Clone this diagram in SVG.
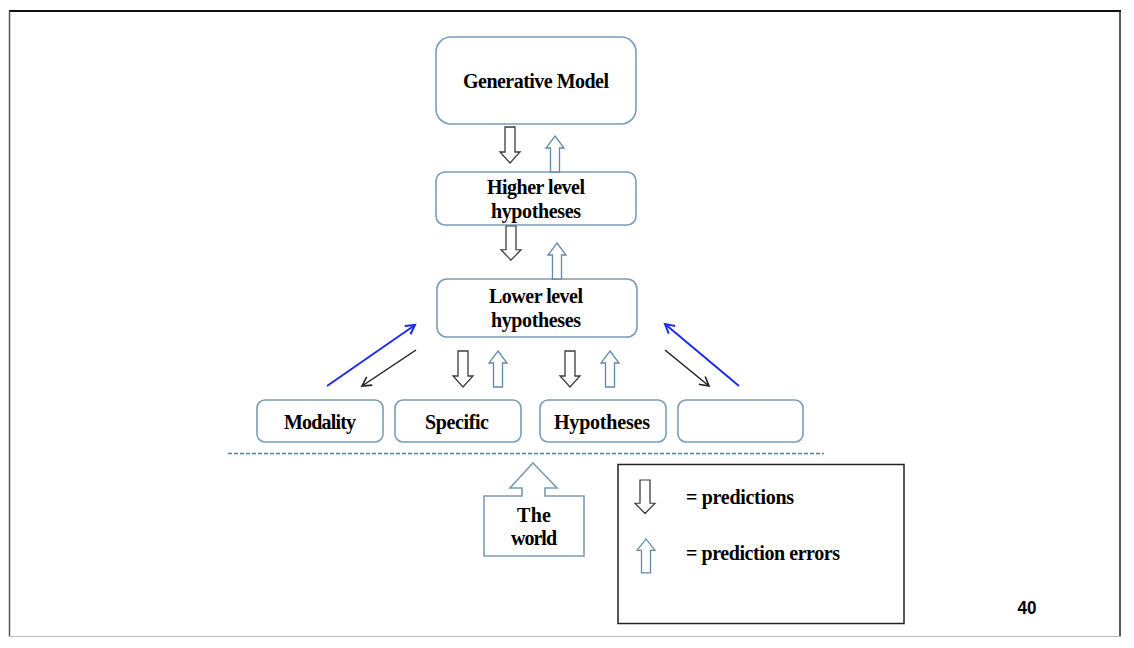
<svg xmlns="http://www.w3.org/2000/svg" width="1134" height="648" viewBox="0 0 1134 648">
<style>
.box{fill:#fff;stroke:#7b9cb5;stroke-width:1.6}
.t{font-family:"Liberation Serif","Times New Roman",serif;font-weight:bold;font-size:20px;fill:#000;text-anchor:middle}
.dn{fill:#fff;stroke:#3c3c3c;stroke-width:1.3}
.up{fill:#fff;stroke:#5f8bab;stroke-width:1.3}
.blue{stroke:#1c2bf0;stroke-width:2;fill:none}
.blk{stroke:#222;stroke-width:1.5;fill:none}
</style>
<defs>
<path id="dnA" d="M-5,0 H5 V25 H10 L0,36 L-10,25 H-5 Z"/>
<path id="upA" d="M0,0 L9,12 H4.5 V36 H-4.5 V12 H-9 Z"/>
<marker id="mB" markerUnits="userSpaceOnUse" markerWidth="14" markerHeight="14" refX="10" refY="6" orient="auto"><path d="M1,1 L10,6 L1,11" fill="none" stroke="#1c2bf0" stroke-width="2"/></marker>
<marker id="mK" markerUnits="userSpaceOnUse" markerWidth="14" markerHeight="14" refX="10" refY="6" orient="auto"><path d="M1,1 L10,6 L1,11" fill="none" stroke="#222" stroke-width="1.6"/></marker>
</defs>
<rect width="1134" height="648" fill="#fff"/>
<g id="frame">
<line x1="9" y1="11" x2="1121" y2="11" stroke="#111" stroke-width="2"/>
<line x1="9.5" y1="11" x2="9.5" y2="636" stroke="#555" stroke-width="1.5"/>
<line x1="1120" y1="11" x2="1120" y2="636" stroke="#333" stroke-width="1.6"/>
<line x1="9" y1="636.5" x2="1121" y2="636.5" stroke="#bbb" stroke-width="1.2"/>
</g>
<g id="generative-model"><rect class="box" x="436" y="37" width="200" height="87" rx="15"/><text class="t" x="536" y="88" textLength="146">Generative Model</text></g>
<g id="higher-level"><rect class="box" x="436" y="172" width="200" height="53" rx="9"/><text class="t" x="536" y="194" textLength="98">Higher level</text><text class="t" x="536" y="218" textLength="90">hypotheses</text></g>
<g id="lower-level"><rect class="box" x="437" y="279" width="200" height="58" rx="10"/><text class="t" x="536" y="303" textLength="94">Lower level</text><text class="t" x="536" y="327" textLength="90">hypotheses</text></g>
<g id="modality"><rect class="box" x="257" y="400" width="126" height="42" rx="8"/><text class="t" x="320" y="429" textLength="72">Modality</text></g>
<g id="specific"><rect class="box" x="395" y="400" width="126" height="42" rx="8"/><text class="t" x="457" y="429" textLength="64">Specific</text></g>
<g id="hypotheses"><rect class="box" x="540" y="400" width="126" height="42" rx="8"/><text class="t" x="602" y="429" textLength="96">Hypotheses</text></g>
<g id="empty"><rect class="box" x="678" y="400" width="125" height="42" rx="8"/></g>
<g id="world"><path class="box" d="M533,463 L557,488 H545 V496 H584 V556 H484 V496 H522 V488 H510 Z"/><text class="t" x="534" y="522" textLength="34">The</text><text class="t" x="534" y="545" textLength="46">world</text></g>
<g id="legend"><rect x="618" y="464.5" width="286" height="159" fill="#fff" stroke="#222" stroke-width="1.5"/>
<use href="#dnA" class="dn" transform="translate(645,480) scale(1,0.93)"/>
<use href="#upA" class="up" transform="translate(646,539) scale(1,0.94)"/>
<text class="t" x="686" y="504" textLength="108" style="text-anchor:start">= predictions</text>
<text class="t" x="686" y="560" textLength="154" style="text-anchor:start">= prediction errors</text></g>
<g id="page-number"><text x="1027" y="614" font-family="'Liberation Sans',Arial,sans-serif" font-weight="bold" font-size="18" text-anchor="middle" textLength="19" lengthAdjust="spacingAndGlyphs">40</text></g>
<g id="connectors">
<line x1="228" y1="453.5" x2="824" y2="453.5" stroke="#4f7fa3" stroke-width="1.5" stroke-dasharray="4,2"/>
<use href="#dnA" class="dn" transform="translate(510,127)"/>
<use href="#upA" class="up" transform="translate(555,136)"/>
<use href="#dnA" class="dn" transform="translate(511,226) scale(1,0.95)"/>
<use href="#upA" class="up" transform="translate(557,243)"/>
<use href="#dnA" class="dn" transform="translate(463,351)"/>
<use href="#upA" class="up" transform="translate(498,351)"/>
<use href="#dnA" class="dn" transform="translate(570,351)"/>
<use href="#upA" class="up" transform="translate(610,351)"/>
<line class="blue" x1="327" y1="386" x2="415" y2="325" marker-end="url(#mB)"/>
<line class="blk" x1="416" y1="350" x2="362" y2="386" marker-end="url(#mK)"/>
<line class="blk" x1="665" y1="350" x2="709" y2="386" marker-end="url(#mK)"/>
<line class="blue" x1="739" y1="386" x2="665" y2="324" marker-end="url(#mB)"/>
</g>
</svg>
